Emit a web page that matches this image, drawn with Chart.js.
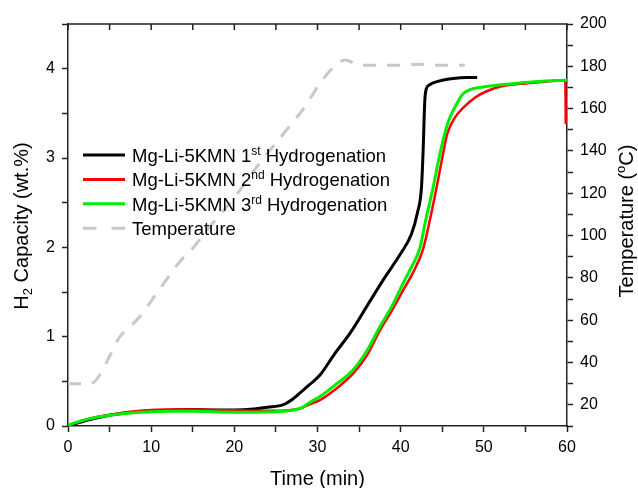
<!DOCTYPE html>
<html>
<head>
<meta charset="utf-8">
<script src="https://cdn.jsdelivr.net/npm/chart.js@4.4.1/dist/chart.umd.min.js"></script>
<style>
  html, body { margin: 0; padding: 0; background: #fff; }
  #wrap { width: 638px; height: 488px; }
</style>
</head>
<body>
<div id="wrap"><canvas id="h2Chart" width="638" height="488"></canvas></div>
<script>
// temperature profile (right axis, degC)
const tempTime  = [0, 1, 2, 3, 3.8, 5, 6.2, 7.5, 8.7, 10, 10.7, 12, 13.5, 15, 17, 20, 23, 26.3, 28.5, 30.3, 31.9, 33.3, 34.7, 36, 38, 40, 42, 44, 46, 47.7];
const tempValue = [30, 30, 30, 30.5, 34, 43, 52, 57, 62, 69, 73, 80, 88, 94, 104, 118, 134, 150, 161, 172, 179.5, 183, 181, 180.5, 180.5, 180.5, 181, 180.5, 180.5, 180.5];

// 1st hydrogenation (wt.%)
const firstTime = [0, 1, 2.5, 5, 7.5, 10, 12.5, 15, 17.5, 20, 22.3, 24, 25.9, 27, 27.9, 29, 30.3, 32, 34, 36, 38, 40, 41.3, 42, 42.5, 42.7, 42.9, 43.1, 43.5, 43.9, 45, 46.3, 48, 49.2];
const firstCap  = [0, 0.03, 0.07, 0.12, 0.15, 0.17, 0.18, 0.185, 0.18, 0.18, 0.19, 0.21, 0.24, 0.3, 0.37, 0.46, 0.57, 0.8, 1.05, 1.35, 1.65, 1.93, 2.15, 2.38, 2.67, 3.08, 3.64, 3.78, 3.82, 3.84, 3.87, 3.89, 3.9, 3.9];

// 2nd hydrogenation
const secondTime = [0, 1, 2.5, 5, 7.5, 10, 12.5, 15, 17.5, 20, 22.5, 25, 26.5, 28, 29, 30.3, 32, 34.3, 36, 37.5, 39, 40.3, 41.5, 42.7, 43.5, 44.4, 45, 45.6, 46.5, 47.5, 49, 50.4, 52, 54.3, 57, 59.6, 59.8, 59.85];
const secondCap  = [0, 0.04, 0.08, 0.125, 0.16, 0.18, 0.185, 0.185, 0.18, 0.175, 0.17, 0.17, 0.175, 0.2, 0.24, 0.29, 0.4, 0.59, 0.8, 1.07, 1.3, 1.52, 1.72, 1.98, 2.3, 2.71, 3.0, 3.27, 3.45, 3.56, 3.68, 3.75, 3.8, 3.83, 3.85, 3.87, 3.86, 3.38];

// 3rd hydrogenation
const thirdTime = [0, 1, 2.5, 5, 7.5, 10, 12.5, 15, 17.5, 20, 22.5, 25, 26.5, 28, 29, 30.3, 32, 34.3, 36, 37.5, 39, 40.3, 41.3, 42.3, 43, 43.9, 44.5, 45.1, 45.7, 46.3, 47, 47.5, 48.5, 49.5, 52, 54.3, 57, 60];
const thirdCap  = [0.01, 0.04, 0.08, 0.12, 0.145, 0.16, 0.165, 0.165, 0.16, 0.155, 0.155, 0.16, 0.17, 0.2, 0.26, 0.33, 0.45, 0.63, 0.85, 1.11, 1.35, 1.6, 1.78, 1.99, 2.3, 2.67, 2.95, 3.2, 3.4, 3.53, 3.65, 3.72, 3.77, 3.79, 3.82, 3.84, 3.86, 3.87];

const legendRows = [
    { parts: ['Mg-Li-5KMN 1', 'st', ' Hydrogenation'], color: '#000000', dash: [] },
    { parts: ['Mg-Li-5KMN 2', 'nd', ' Hydrogenation'], color: '#ff0000', dash: [] },
    { parts: ['Mg-Li-5KMN 3', 'rd', ' Hydrogenation'], color: '#00ee00', dash: [] },
    { parts: ['Temperature'], color: '#c8c8c8', dash: [13.5, 15] }
];

const FONT = "'Liberation Sans', Arial, sans-serif";
const AXIS = '#222222';

function pts(xs, ys) {
    return xs.map((x, i) => ({ x: x, y: ys[i] }));
}

// draws text where odd parts are raised (sup) or lowered (sub)
function richText(ctx, x, y, parts, size, mode) {
    let cx = x;
    parts.forEach((p, i) => {
        const small = i % 2 === 1;
        ctx.font = (small ? size * 0.65 : size) + 'px ' + FONT;
        const dy = small ? (mode === 'sub' ? size * 0.22 : -size * 0.38) : 0;
        ctx.fillText(p, cx, y + dy);
        cx += ctx.measureText(p).width;
    });
    return cx - x;
}

function richWidth(ctx, parts, size) {
    let w = 0;
    parts.forEach((p, i) => {
        ctx.font = (i % 2 === 1 ? size * 0.65 : size) + 'px ' + FONT;
        w += ctx.measureText(p).width;
    });
    return w;
}

const decorations = {
    id: 'decorations',
    afterDraw(chart) {
        const ctx = chart.ctx;
        const area = chart.chartArea;
        const xs = chart.scales.x;
        ctx.save();

        // top frame with inward ticks
        ctx.strokeStyle = AXIS;
        ctx.lineWidth = 1.5;
        ctx.beginPath();
        ctx.moveTo(area.left, area.top);
        ctx.lineTo(area.right, area.top);
        for (let t = 0; t <= 60; t += 5) {
            const px = xs.getPixelForValue(t);
            ctx.moveTo(px, area.top);
            ctx.lineTo(px, area.top + 6);
        }
        ctx.stroke();

        // legend
        ctx.fillStyle = '#000';
        ctx.textAlign = 'left';
        ctx.textBaseline = 'alphabetic';
        legendRows.forEach((row, i) => {
            const base = 162 + i * 24.4;
            ctx.strokeStyle = row.color;
            ctx.lineWidth = 3;
            ctx.setLineDash(row.dash);
            ctx.beginPath();
            ctx.moveTo(83, base - 7);
            ctx.lineTo(125, base - 7);
            ctx.stroke();
            ctx.setLineDash([]);
            richText(ctx, 132, base, row.parts, 18.5, 'sup');
        });

        // axis titles
        ctx.font = '20px ' + FONT;
        ctx.textAlign = 'center';
        ctx.fillText('Time (min)', (area.left + area.right) / 2, 485);
        ctx.textAlign = 'left';

        const leftParts = ['H', '2', ' Capacity (wt.%)'];
        ctx.save();
        ctx.translate(28, 226);
        ctx.rotate(-Math.PI / 2);
        richText(ctx, -richWidth(ctx, leftParts, 20) / 2, 0, leftParts, 20, 'sub');
        ctx.restore();

        const rightParts = ['Temperature (', 'o', 'C)'];
        ctx.save();
        ctx.translate(633, 221);
        ctx.rotate(-Math.PI / 2);
        richText(ctx, -richWidth(ctx, rightParts, 20) / 2, 0, rightParts, 20, 'sup');
        ctx.restore();

        ctx.restore();
    }
};

const lineBase = {
    showLine: true,
    pointRadius: 0,
    fill: false,
    cubicInterpolationMode: 'monotone'
};

new Chart(document.getElementById('h2Chart'), {
    type: 'scatter',
    data: {
        datasets: [
            { ...lineBase, label: 'Mg-Li-5KMN 3rd Hydrogenation', data: pts(thirdTime, thirdCap), borderColor: '#00ee00', borderWidth: 3, yAxisID: 'y', order: 0 },
            { ...lineBase, label: 'Mg-Li-5KMN 2nd Hydrogenation', data: pts(secondTime, secondCap), borderColor: '#ff0000', borderWidth: 2.5, yAxisID: 'y', order: 1 },
            { ...lineBase, label: 'Mg-Li-5KMN 1st Hydrogenation', data: pts(firstTime, firstCap), borderColor: '#000000', borderWidth: 3, yAxisID: 'y', order: 2 },
            { ...lineBase, label: 'Temperature', data: pts(tempTime, tempValue), borderColor: '#c8c8c8', borderWidth: 3, borderDash: [13, 11], yAxisID: 'y1', order: 3 }
        ]
    },
    options: {
        responsive: false,
        animation: false,
        layout: { padding: { top: 24, left: 0, right: 0, bottom: 0 } },
        plugins: {
            legend: { display: false },
            tooltip: { enabled: false }
        },
        scales: {
            x: {
                type: 'linear',
                min: 0, max: 60,
                afterFit: s => { s.height = 62; },
                border: { color: AXIS, width: 1.5 },
                grid: { drawOnChartArea: false, tickLength: 6, tickColor: AXIS, tickWidth: 1.5 },
                ticks: {
                    stepSize: 5, color: '#000', padding: 6, autoSkip: false, maxRotation: 0,
                    font: { family: FONT, size: 16 },
                    callback: v => (v % 10 === 0 ? v : '')
                }
            },
            y: {
                position: 'left',
                min: 0, max: 4.5,
                afterFit: s => { s.width = 68; },
                border: { color: AXIS, width: 1.5 },
                grid: { drawOnChartArea: false, tickLength: 6, tickColor: AXIS, tickWidth: 1.5 },
                ticks: {
                    stepSize: 0.5, color: '#000', padding: 7, autoSkip: false,
                    font: { family: FONT, size: 16 },
                    callback: v => (Number.isInteger(v) ? v : '')
                }
            },
            y1: {
                position: 'right',
                min: 10, max: 200,
                afterFit: s => { s.width = 71; },
                border: { color: AXIS, width: 1.5 },
                grid: { drawOnChartArea: false, tickLength: 6, tickColor: AXIS, tickWidth: 1.5 },
                ticks: {
                    stepSize: 10, color: '#000', padding: 7, autoSkip: false,
                    font: { family: FONT, size: 16 },
                    callback: v => (v % 20 === 0 ? v : '')
                }
            }
        }
    },
    plugins: [decorations]
});
</script>
</body>
</html>
